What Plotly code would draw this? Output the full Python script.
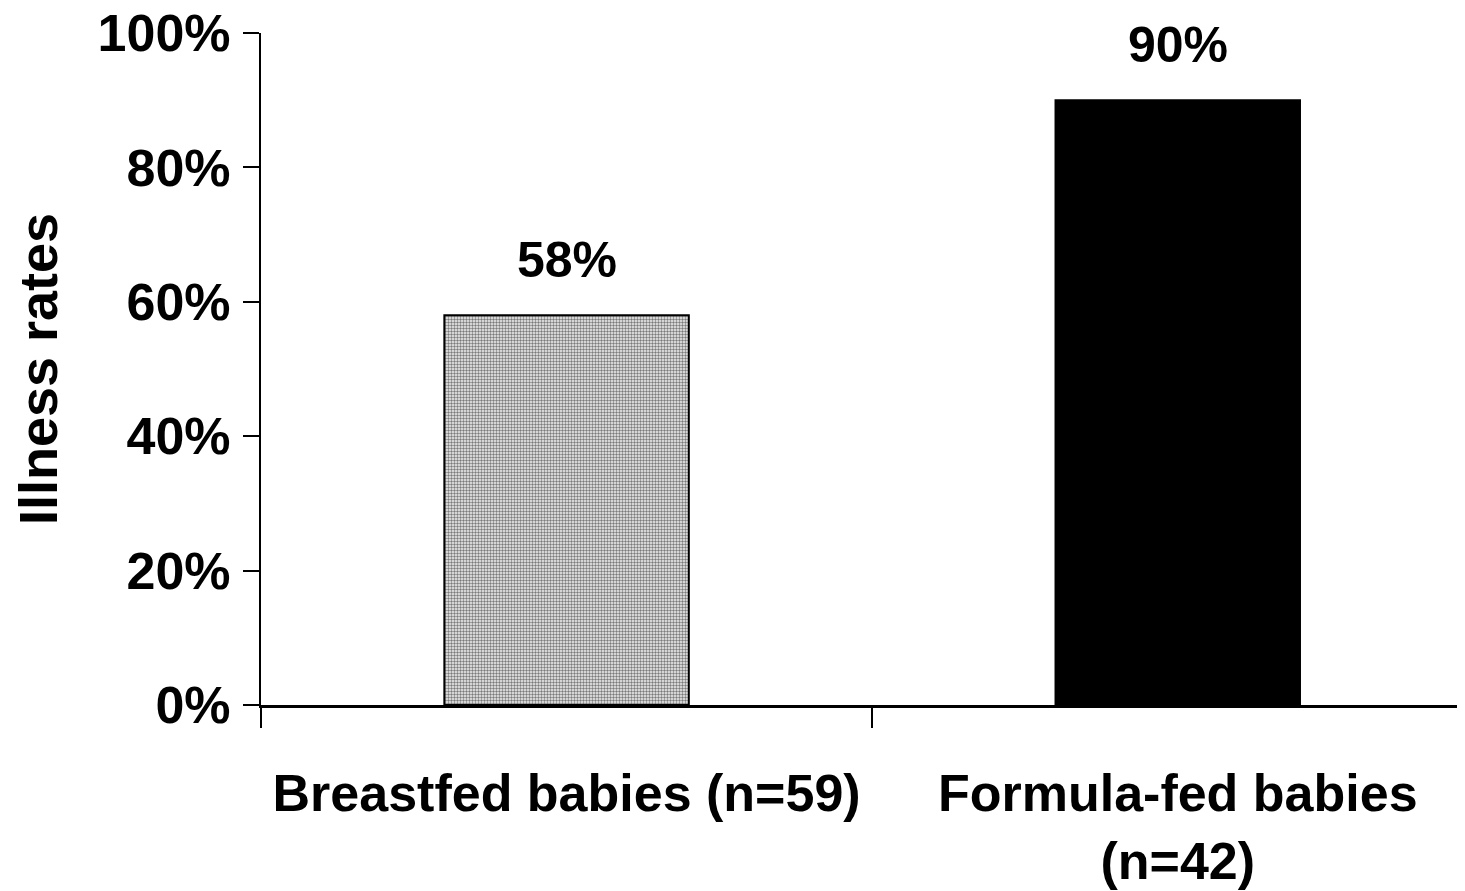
import plotly.graph_objects as go

categories = ["Breastfed babies (n=59)", "Formula-fed babies<br>(n=42)"]
rates = [0.58, 0.90]
value_labels = ["58%", "90%"]
y_ticks = [0, 0.2, 0.4, 0.6, 0.8, 1.0]
y_tick_text = ["0%", "20%", "40%", "60%", "80%", "100%"]

FONT = "Liberation Sans, Arial, sans-serif"

fig = go.Figure()
fig.add_trace(go.Bar(
    x=[categories[0]], y=[rates[0]], width=0.40,
    marker=dict(color="#c8c8c8", line=dict(color="black", width=2),
                pattern=dict(shape=".", size=3, solidity=0.5,
                             fgcolor="#7a7a7a", bgcolor="#f4f4f4", fillmode="replace")),
    showlegend=False, hoverinfo="skip",
))
fig.add_trace(go.Bar(
    x=[categories[1]], y=[rates[1]], width=0.40,
    marker=dict(color="black", line=dict(color="black", width=2)),
    showlegend=False, hoverinfo="skip",
))

for c, v, t in zip(categories, rates, value_labels):
    fig.add_annotation(x=c, y=v, text=t, showarrow=False, yanchor="bottom",
                       yshift=25, font=dict(family=FONT, size=50, color="black", weight="bold"))

fig.update_layout(
    width=1457, height=883,
    margin=dict(l=253, r=0, t=25, b=186, autoexpand=False),
    paper_bgcolor="white", plot_bgcolor="white",
    font=dict(family=FONT, color="black", weight="bold"),
    bargap=0.6,
)
fig.update_xaxes(
    type="category", categoryorder="array", categoryarray=categories,
    range=[-0.5, 1.47], automargin=False,
    showline=True, linecolor="black", linewidth=3,
    ticks="outside", ticklen=20, tickwidth=2, tickcolor="black",
    tickson="boundaries", showgrid=False, zeroline=False,
    tickfont=dict(family=FONT, size=52, color="black", weight="bold"),
    ticklabelstandoff=41,
)
fig.update_yaxes(
    range=[0, 1], tickvals=y_ticks, ticktext=y_tick_text, automargin=False,
    showline=True, linecolor="black", linewidth=2,
    ticks="outside", ticklen=16, tickwidth=2, tickcolor="black",
    showgrid=False, zeroline=False,
    tickfont=dict(family=FONT, size=52, color="black", weight="bold"),
    ticklabelstandoff=2, ticklabeloverflow="allow",
    title=dict(text="Illness rates", font=dict(family=FONT, size=54, color="black", weight="bold"), standoff=58),
)

fig.write_html("out.html")
